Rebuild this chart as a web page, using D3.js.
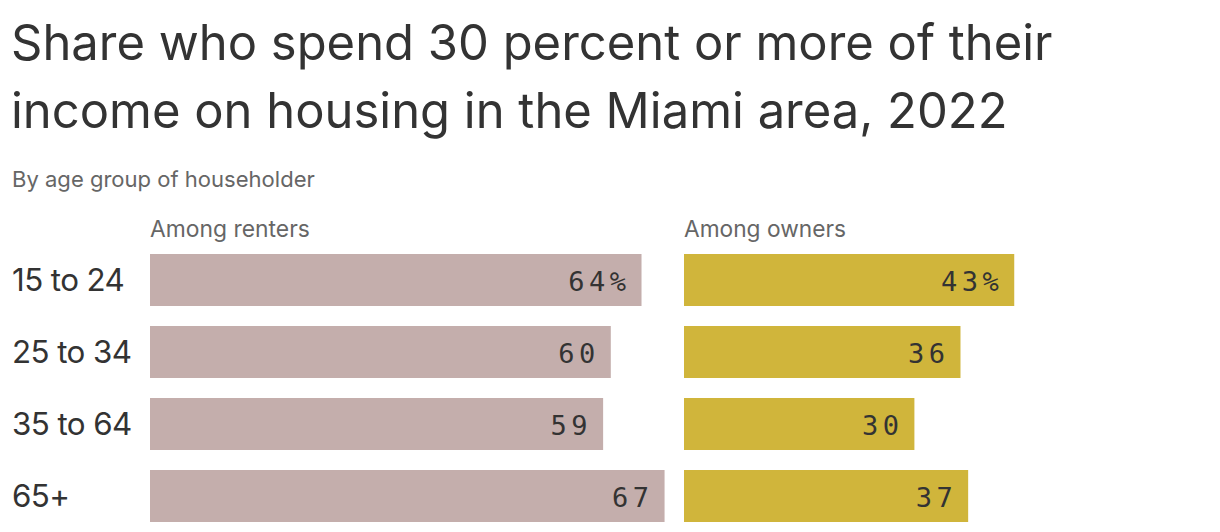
<!DOCTYPE html>
<html><head><meta charset="utf-8">
<script src="https://cdn.jsdelivr.net/npm/d3@7"></script>
<style>
html,body{margin:0;padding:0;background:#fff;}
svg{display:block;}
</style></head>
<body>
<script>
const titleLines = ["Share who spend 30 percent or more of their", "income on housing in the Miami area, 2022"];
const subtitle = "By age group of householder";
const categories = ["15 to 24", "25 to 34", "35 to 64", "65+"];
const panelTitles = ["Among renters", "Among owners"];
const renters = [64, 60, 59, 67];
const owners = [43, 36, 30, 37];
const colors = ["#c4aeac", "#d0b53b"];

const W = 1220, H = 532;
const svg = d3.select("body").append("svg").attr("width", W).attr("height", H);

function fit(sel, target) {
  const w = sel.node().getComputedTextLength();
  const fs = parseFloat(sel.attr("font-size"));
  sel.attr("font-size", fs * target / w);
}

const t1 = svg.append("text").attr("x", 11).attr("y", 60).attr("font-family", "Inter").attr("font-size", 50).attr("fill", "#333").text(titleLines[0]);
fit(t1, 1042);
const t2 = svg.append("text").attr("x", 11).attr("y", 128).attr("font-family", "Inter").attr("font-size", t1.attr("font-size")).attr("fill", "#333").text(titleLines[1]);

const st = svg.append("text").attr("x", 12).attr("y", 187).attr("font-family", "Inter").attr("font-size", 19).attr("fill", "#666").text(subtitle);
fit(st, 303);

const y = d3.scaleBand().domain(categories).range([254, 522]).paddingInner(20/72).paddingOuter(0);
const x = d3.scaleLinear().domain([0, 100]).range([0, 768]);
const panelX = [150, 684];
const panelData = [renters, owners];

const c0 = svg.append("text").attr("x", 0).attr("y", -100).attr("font-family", "Inter").attr("font-size", 30).attr("letter-spacing", -0.6).text(categories[0]);
fit(c0, 112);
const catFs = c0.attr("font-size");
c0.remove();
categories.forEach((c, i) => {
  svg.append("text").attr("x", 12).attr("y", y(c) + y.bandwidth()/2 + 11)
    .attr("font-family", "Inter").attr("font-size", catFs).attr("fill", "#333").attr("letter-spacing", -0.6).text(c);
});

panelData.forEach((vals, p) => {
  const g = svg.append("g").attr("transform", `translate(${panelX[p]},0)`);
  const pt = g.append("text").attr("x", 0).attr("y", 237).attr("font-family", "Inter").attr("font-size", 19).attr("fill", "#666").text(panelTitles[p]);
  fit(pt, p === 0 ? 160 : 162);
  g.selectAll("rect").data(vals).join("rect")
    .attr("x", 0).attr("y", (d, i) => y(categories[i]))
    .attr("width", d => x(d)).attr("height", y.bandwidth())
    .attr("fill", colors[p]);
  g.selectAll("text.val").data(vals).join("text").attr("class", "val")
    .attr("x", d => x(d) - 11).attr("y", (d, i) => y(categories[i]) + y.bandwidth()/2 + 11)
    .attr("text-anchor", "end").attr("font-family", "DejaVu Sans Mono").attr("font-size", 27)
    .attr("letter-spacing", 4.5).attr("fill", "#333")
    .text((d, i) => i === 0 ? d + "%" : d);
});
</script>
</body></html>
